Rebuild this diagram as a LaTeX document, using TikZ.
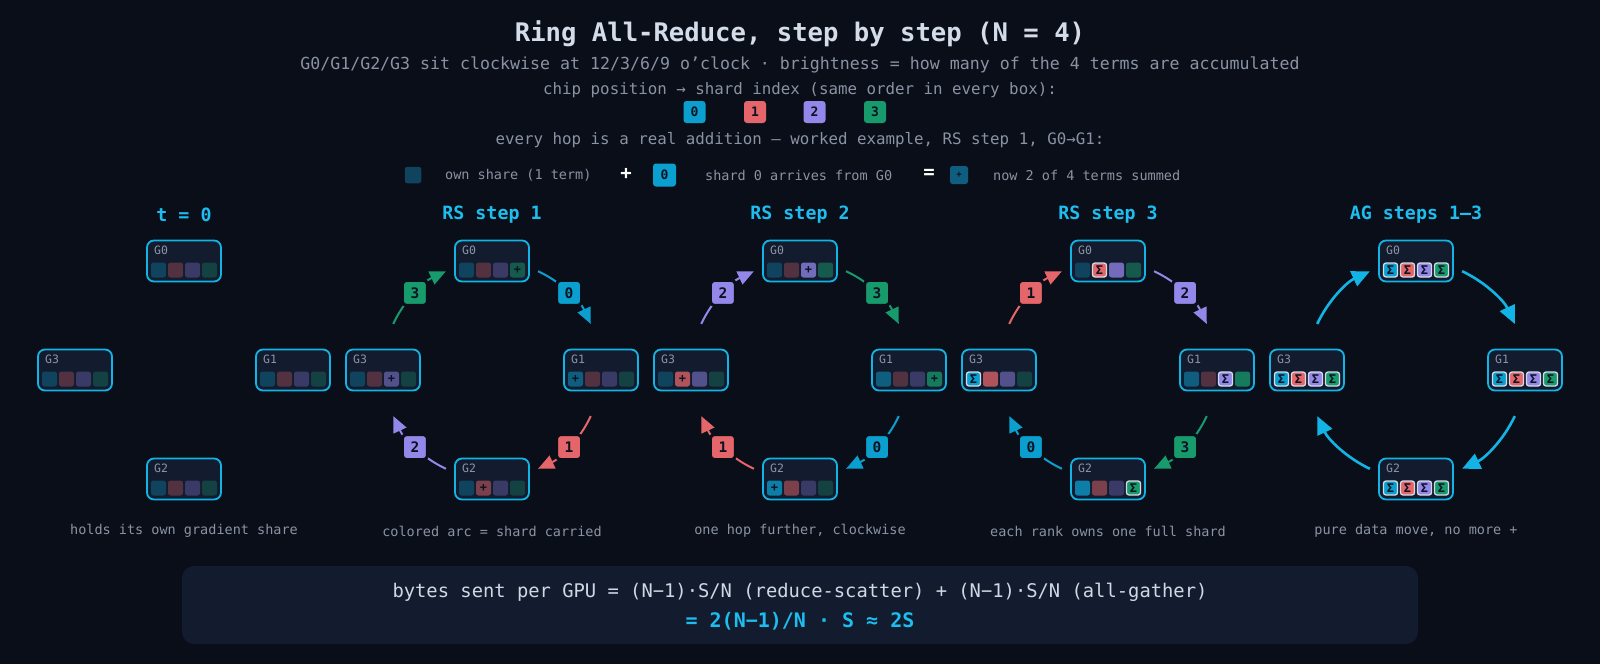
\documentclass[tikz,border=0pt]{standalone}
\usepackage{fontspec}
\setmainfont{DejaVu Sans Mono}
\setmonofont{DejaVu Sans Mono}
\usetikzlibrary{calc,arrows.meta}
\definecolor{bg}{HTML}{0A0E18}
\definecolor{boxbg}{HTML}{131B2E}
\definecolor{cyanb}{HTML}{12B4E6}
\definecolor{ttl}{HTML}{1CBEF0}
\definecolor{sh0}{HTML}{0A9FCF}
\definecolor{sh1}{HTML}{E4666A}
\definecolor{sh2}{HTML}{9387EA}
\definecolor{sh3}{HTML}{179A6C}
\definecolor{chiptext}{HTML}{0B1220}
\definecolor{sigline}{HTML}{D6DCE6}
\definecolor{titletext}{HTML}{D3DCE8}
\definecolor{graytext}{HTML}{8A93A3}
\definecolor{lbltext}{HTML}{8C96A8}
\definecolor{formtext}{HTML}{D0D8E4}
\tikzset{
  gbox/.style={draw=cyanb, line width=1.8pt, fill=boxbg, rounded corners=7pt,
    minimum width=74pt, minimum height=41pt, inner sep=0pt},
  glabel/.style={anchor=west, text=lbltext, font=\fontsize{11.5}{12}\selectfont, inner sep=0pt},
  chip/.style={minimum size=15pt, inner sep=0pt, rounded corners=2.5pt, text=chiptext,
    font=\fontsize{12}{12}\selectfont\bfseries},
  lab/.style={minimum size=25pt, inner sep=0pt, rounded corners=4pt, text=chiptext,
    font=\fontsize{14.5}{14.5}\selectfont\bfseries, draw=bg, line width=3pt},
  keychip/.style={minimum size=22pt, inner sep=0pt, rounded corners=3pt, text=chiptext,
    font=\fontsize{13}{13}\selectfont\bfseries},
  rsarc/.style={line width=2pt, -{Triangle[length=16pt,width=14pt]}},
  agarc/.style={line width=2.6pt, draw=cyanb, -{Triangle[length=18pt,width=16pt]}},
  ptitle/.style={text=ttl, font=\fontsize{18.3}{20}\selectfont\bfseries},
  caption/.style={text=graytext, font=\fontsize{13.5}{15}\selectfont},
  hdr/.style={text=graytext, font=\fontsize{15.8}{18}\selectfont},
  legtext/.style={text=graytext, font=\fontsize{13.5}{15}\selectfont, anchor=west, inner sep=0pt},
  opsym/.style={text=white, font=\fontsize{19}{19}\selectfont\bfseries},
}
\newcommand\gpu[4]{%
  \node[gbox] (#1) at (#2) {};
  \node[glabel] (#1l) at ($(#1.center)+(-30,-10.5)$) {#3};
  \foreach \lv/\mk [count=\i from 0] in {#4} {%
    \ifnum\lv=100
      \node[chip, minimum size=14pt, fill=sh\i, draw=sigline, line width=1.3pt]
        at ($(#1.center)+(-25.5+17*\i,9)$) {\mk};
    \else
      \node[chip, fill=sh\i!\lv!boxbg] at ($(#1.center)+(-25.5+17*\i,9)$) {\mk};
    \fi
  }%
}
\newcommand\rarc[5]{%
  \pgfmathsetmacro\sa{-1*(#2)}%
  \pgfmathsetmacro\ea{-1*(#3)}%
  \pgfmathsetmacro\ma{-0.5*((#2)+(#3))}%
  \draw[rsarc, draw=#4] ($(#1)+(\sa:109)$) arc[start angle=\sa, end angle=\ea, radius=109];
  \node[lab, fill=#4] at ($(#1)+(\ma:109)$) {#5};
}
\newcommand\garc[3]{%
  \pgfmathsetmacro\sa{-1*(#2)}%
  \pgfmathsetmacro\ea{-1*(#3)}%
  \draw[agarc] ($(#1)+(\sa:109)$) arc[start angle=\sa, end angle=\ea, radius=109];
}
\newcommand\ring[6]{% prefix, x, G0 list, G1 list, G2 list, G3 list
  \coordinate (#1c) at (#2,370);
  \gpu{#1g0}{#2,261}{G0}{#3}
  \gpu{#1g1}{#2+109,370}{G1}{#4}
  \gpu{#1g2}{#2,479}{G2}{#5}
  \gpu{#1g3}{#2-109,370}{G3}{#6}
}
\begin{document}
\begin{tikzpicture}[x=1pt,y=-1pt]
\useasboundingbox (0,0) rectangle (1600,664);
\fill[bg] (0,0) rectangle (1600,664);

% header
\node[text=titletext, font=\fontsize{25.6}{28}\selectfont\bfseries] (title) at (800,34) {Ring All-Reduce, step by step (N = 4)};
\node[text=graytext, font=\fontsize{16.6}{19}\selectfont] (sub) at (800,65) {G0/G1/G2/G3 sit clockwise at 12/3/6/9 o’clock · brightness = how many of the 4 terms are accumulated};
\node[hdr] (chippos) at (800,90) {chip position → shard index (same order in every box):};
\node[keychip, fill=sh0] (k0) at (694.5,112) {0};
\node[keychip, fill=sh1] (k1) at (755,112) {1};
\node[keychip, fill=sh2] (k2) at (814.5,112) {2};
\node[keychip, fill=sh3] (k3) at (875,112) {3};
\node[hdr] (hop) at (800,140) {every hop is a real addition — worked example, RS step 1, G0→G1:};

% legend row
\node[chip, minimum size=16.5pt, fill=sh0!30!boxbg] (own) at (413,175) {};
\node[legtext] (owntx) at (445,175) {own share (1 term)};
\node[opsym] (plus) at (626,174) {+};
\node[keychip, minimum size=23pt, fill=sh0] (arr) at (664.5,175) {0};
\node[legtext] (arrtx) at (705,175) {shard 0 arrives from G0};
\node[opsym] (eq) at (929,174) {=};
\node[chip, minimum size=18pt, fill=sh0!50!boxbg, font=\fontsize{9}{9}\selectfont\bfseries] (sum) at (959,175) {+};
\node[legtext] (sumtx) at (993,175) {now 2 of 4 terms summed};

% panel titles
\node[ptitle] (t0) at (184,215) {t = 0};
\node[ptitle] (t1) at (492,215) {RS step 1};
\node[ptitle] (t2) at (800,215) {RS step 2};
\node[ptitle] (t3) at (1108,215) {RS step 3};
\node[ptitle] (t4) at (1416,215) {AG steps 1–3};

% panel 1
\ring{a}{184}{30/,30/,30/,30/}{30/,30/,30/,30/}{30/,30/,30/,30/}{30/,30/,30/,30/}

% panel 2: RS step 1
\coordinate (bc) at (492,370);
\rarc{bc}{155}{115}{sh3}{3}
\rarc{bc}{65}{25}{sh0}{0}
\rarc{bc}{-25}{-65}{sh1}{1}
\rarc{bc}{245}{205}{sh2}{2}
\ring{b}{492}{30/,30/,30/,50/+}{50/+,30/,30/,30/}{30/,50/+,30/,30/}{30/,30/,50/+,30/}

% panel 3: RS step 2
\coordinate (cc) at (800,370);
\rarc{cc}{155}{115}{sh2}{2}
\rarc{cc}{65}{25}{sh3}{3}
\rarc{cc}{-25}{-65}{sh0}{0}
\rarc{cc}{245}{205}{sh1}{1}
\ring{c}{800}{30/,30/,75/+,50/}{50/,30/,30/,75/+}{75/+,50/,30/,30/}{30/,75/+,50/,30/}

% panel 4: RS step 3
\coordinate (dc) at (1108,370);
\rarc{dc}{155}{115}{sh1}{1}
\rarc{dc}{65}{25}{sh2}{2}
\rarc{dc}{-25}{-65}{sh3}{3}
\rarc{dc}{245}{205}{sh0}{0}
\ring{d}{1108}{30/,100/Σ,75/,50/}{50/,30/,100/Σ,75/}{75/,50/,30/,100/Σ}{100/Σ,75/,50/,30/}

% panel 5: AG
\coordinate (ec) at (1416,370);
\garc{ec}{155}{115}
\garc{ec}{65}{25}
\garc{ec}{-25}{-65}
\garc{ec}{245}{205}
\ring{e}{1416}{100/Σ,100/Σ,100/Σ,100/Σ}{100/Σ,100/Σ,100/Σ,100/Σ}{100/Σ,100/Σ,100/Σ,100/Σ}{100/Σ,100/Σ,100/Σ,100/Σ}

% captions
\node[caption] (c0) at (184,531) {holds its own gradient share};
\node[caption] (c1) at (492,531) {colored arc = shard carried};
\node[caption] (c2) at (800,531) {one hop further, clockwise};
\node[caption] (c3) at (1108,531) {each rank owns one full shard};
\node[caption] (c4) at (1416,531) {pure data move, no more +};

% formula box
\fill[boxbg, rounded corners=12pt] (182,566) rectangle (1418,644);
\node[text=formtext, font=\fontsize{18.8}{21}\selectfont] (f1) at (800,592) {bytes sent per GPU = (N−1)·S/N (reduce-scatter) + (N−1)·S/N (all-gather)};
\node[text=ttl, font=\fontsize{20}{22}\selectfont\bfseries] (f2) at (800,621) {= 2(N−1)/N · S ≈ 2S};
\end{tikzpicture}
\end{document}
